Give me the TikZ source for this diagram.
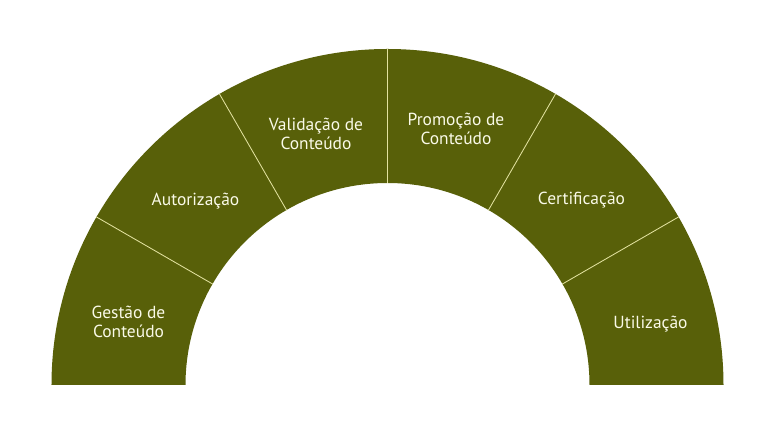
\documentclass[tikz,border=0pt]{standalone}
\usepackage{fontspec}
\setmainfont{PT Sans}
\definecolor{olivefill}{RGB}{88,96,9}
\definecolor{dividerline}{RGB}{226,226,160}
\definecolor{stagetext}{RGB}{250,250,232}
\tikzset{
  ring/.style={fill=olivefill},
  divider/.style={draw=dividerline, line width=0.6pt},
  stage/.style={text=stagetext, align=center, inner sep=0pt, font=\fontsize{12.4}{13.6}\selectfont}
}
\begin{document}
\begin{tikzpicture}[x=0.025cm, y=0.025cm, line join=round, line cap=round]
  \useasboundingbox (-387.5,-47) rectangle (380.5,385);
  % half ring
  \fill[ring] (180:336) arc (180:0:336) -- (0:202) arc (0:180:202) -- cycle;
  % dividers every 30 degrees
  \foreach \a in {30,60,...,150}{
    \path (\a:202) coordinate (i\a) (\a:336) coordinate (o\a);
    \draw[divider] (i\a)--(o\a);
  }
  % stages
  \node[stage] (gestao) at (-259,63) {Gestão de\\Conteúdo};
  \node[stage] (autorizacao) at (-192,184) {Autorização};
  \node[stage] (validacao) at (-71.5,251) {Validação de\\Conteúdo};
  \node[stage] (promocao) at (68.5,256) {Promoção de\\Conteúdo};
  \node[stage] (certificacao) at (194,184.5) {Certificação};
  \node[stage] (utilizacao) at (263,60.5) {Utilização};
\end{tikzpicture}
\end{document}
